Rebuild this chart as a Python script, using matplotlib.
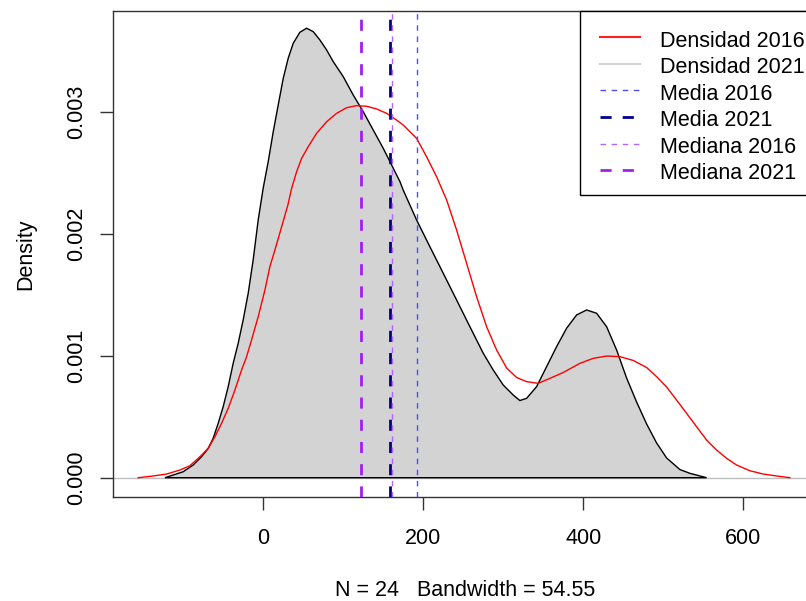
import matplotlib
matplotlib.use("Agg")
import matplotlib.pyplot as plt
from matplotlib.lines import Line2D
from matplotlib.patches import Rectangle

plt.rcParams['font.family'] = ['Liberation Sans', 'DejaVu Sans']

# ---- data ----
x_2021 = [-123.1, -112.8, -100.3, -87.8, -77.3, -69.0, -62.8, -56.5, -50.3, -44.0, -37.8,
          -31.5, -25.3, -19.0, -12.8, -6.5, -0.3, 6.0, 12.3, 18.5, 24.8, 31.0, 37.3, 45.6,
          54.0, 62.3, 70.6, 79.0, 87.3, 99.8, 112.3, 124.8, 137.3, 149.8, 160.3, 170.6,
          174.8, 191.5, 208.1, 224.8, 241.5, 258.1, 274.8, 287.3, 299.8, 312.3, 320.6,
          329.0, 341.5, 354.0, 366.5, 379.0, 391.5, 404.0, 416.5, 429.0, 441.5, 454.0,
          466.5, 479.0, 491.5, 504.0, 520.6, 533.1, 554.0]
y_2021 = [0.0, 0.022, 0.049, 0.104, 0.172, 0.241, 0.323, 0.446, 0.582, 0.747, 0.938,
          1.103, 1.294, 1.513, 1.786, 2.114, 2.374, 2.592, 2.838, 3.057, 3.276, 3.441, 3.564,
          3.654, 3.687, 3.659, 3.591, 3.509, 3.413, 3.290, 3.139, 3.002, 2.852, 2.702, 2.565,
          2.430, 2.359, 2.114, 1.895, 1.677, 1.458, 1.239, 1.021, 0.883, 0.760, 0.678, 0.633,
          0.651, 0.747, 0.911, 1.075, 1.226, 1.335, 1.376, 1.349, 1.239, 1.048, 0.818,
          0.621, 0.441, 0.285, 0.162, 0.067, 0.036, 0.0]
x_2016 = [-156.5, -137.8, -121.0, -104.4, -91.9, -79.4, -69.0, -60.6, -52.3, -44.0, -35.6,
          -27.3, -21.0, -14.8, -6.5, 1.9, 8.1, 14.4, 22.8, 30.6, 35.3, 41.5, 47.8, 56.0,
          66.5, 79.0, 91.5, 104.0, 116.5, 129.0, 141.5, 154.0, 166.5, 174.8, 191.5, 204.0,
          216.5, 229.0, 241.5, 254.0, 266.5, 279.0, 291.5, 304.0, 316.5, 329.0, 343.5,
          358.1, 374.8, 395.6, 412.3, 429.0, 445.6, 462.3, 479.0, 491.5, 504.0, 516.5,
          529.0, 541.5, 554.0, 566.5, 579.0, 591.5, 608.1, 624.8, 641.5, 658.1]
y_2016 = [0.0, 0.014, 0.030, 0.063, 0.098, 0.172, 0.241, 0.336, 0.446, 0.569, 0.719,
          0.883, 0.993, 1.130, 1.321, 1.540, 1.731, 1.868, 2.059, 2.237, 2.374, 2.510, 2.620,
          2.715, 2.825, 2.920, 2.989, 3.035, 3.052, 3.047, 3.025, 2.989, 2.934, 2.893, 2.784,
          2.633, 2.469, 2.279, 2.032, 1.759, 1.485, 1.239, 1.048, 0.900, 0.822, 0.788, 0.774,
          0.815, 0.863, 0.938, 0.979, 0.998, 0.993, 0.962, 0.904, 0.829, 0.744, 0.637,
          0.528, 0.418, 0.309, 0.227, 0.159, 0.104, 0.057, 0.030, 0.014, 0.0]
y_2021 = [v / 1000 for v in y_2021]
y_2016 = [v / 1000 for v in y_2016]

media_2016 = 192.5
media_2021 = 158.0
mediana_2016 = 160.5
mediana_2021 = 122.0

xticks = [0, 200, 400, 600]
yticks = [0.000, 0.001, 0.002, 0.003]
ytick_labels = ["0.000", "0.001", "0.002", "0.003"]
xlabel = "N = 24   Bandwidth = 54.55"
ylabel = "Density"

legend_labels = ["Densidad 2016", "Densidad 2021", "Media 2016", "Media 2021",
                 "Mediana 2016", "Mediana 2021"]
legend_colors = ["#FF2020", "#D3D3D3", "#4D4DFF", "#00008B", "#B266FF", "#A020F0"]
legend_lw = [1.5, 1.5, 1.0, 2.0, 1.0, 2.0]
legend_ls = ["-", "-", (0, (4, 4)), (0, (4, 4)), (0, (4, 4)), (0, (4, 4))]

# ---- figure ----
W, H = 806, 601
fig = plt.figure(figsize=(W / 100, H / 100), dpi=100)
L, R, T, B = 113, 817, 11, 497
ax = fig.add_axes([L / W, 1 - B / H, (R - L) / W, (B - T) / H])

ax.axhline(0, color="#BEBEBE", lw=1.0, zorder=1)
ax.fill(x_2021, y_2021, facecolor="#D3D3D3", edgecolor="black", lw=1.0, zorder=2)
ax.plot(x_2016, y_2016, color="red", lw=1.0, zorder=3)
ax.axvline(media_2016, color="#4D4DFF", lw=1.0, ls=(0, (4, 4)), zorder=4)
ax.axvline(media_2021, color="#00008B", lw=2.0, ls=(0, (4, 4)), zorder=4)
ax.axvline(mediana_2016, color="#B266FF", lw=1.0, ls=(0, (4, 4)), zorder=5)
ax.axvline(mediana_2021, color="#A020F0", lw=2.0, ls=(0, (4, 4)), zorder=5)

ax.set_xlim(-188, 692)
ax.set_ylim(-0.0001583, 0.0038285)
ax.set_xticks(xticks)
ax.set_xticklabels([str(v) for v in xticks])
ax.set_yticks(yticks)
ax.set_yticklabels(ytick_labels, rotation=90, va="center")
ax.tick_params(axis="both", direction="out", length=9.4, width=1.0, labelsize=15.5,
               color="#333333")
ax.tick_params(axis="x", pad=13)
ax.tick_params(axis="y", pad=9)
for s in ax.spines.values():
    s.set_linewidth(1.0)
    s.set_color("#333333")

ax.set_xlabel(xlabel, fontsize=15.5, labelpad=22)
ax.set_ylabel(ylabel, fontsize=15.5, labelpad=22)

# ---- legend (drawn in pixel coordinates) ----
def fx(px):
    return px / W

def fy(py):
    return 1 - py / H

fig.patches.append(Rectangle((fx(580), fy(195)), fx(830) - fx(580), fy(11) - fy(195),
                             transform=fig.transFigure, facecolor="white",
                             edgecolor="black", lw=1.0, zorder=10))
row0 = 37.3
step = 26.55
for i, (lab, c, lw, ls) in enumerate(zip(legend_labels, legend_colors, legend_lw, legend_ls)):
    yy = row0 + i * step
    fig.add_artist(Line2D([fx(600), fx(640)], [fy(yy), fy(yy)], color=c, lw=lw, ls=ls,
                          transform=fig.transFigure, zorder=11))
    fig.text(fx(659.5), fy(yy + 9.4), lab, fontsize=15.5, va="baseline", ha="left",
             zorder=12)

fig.savefig("out.png", dpi=100)
